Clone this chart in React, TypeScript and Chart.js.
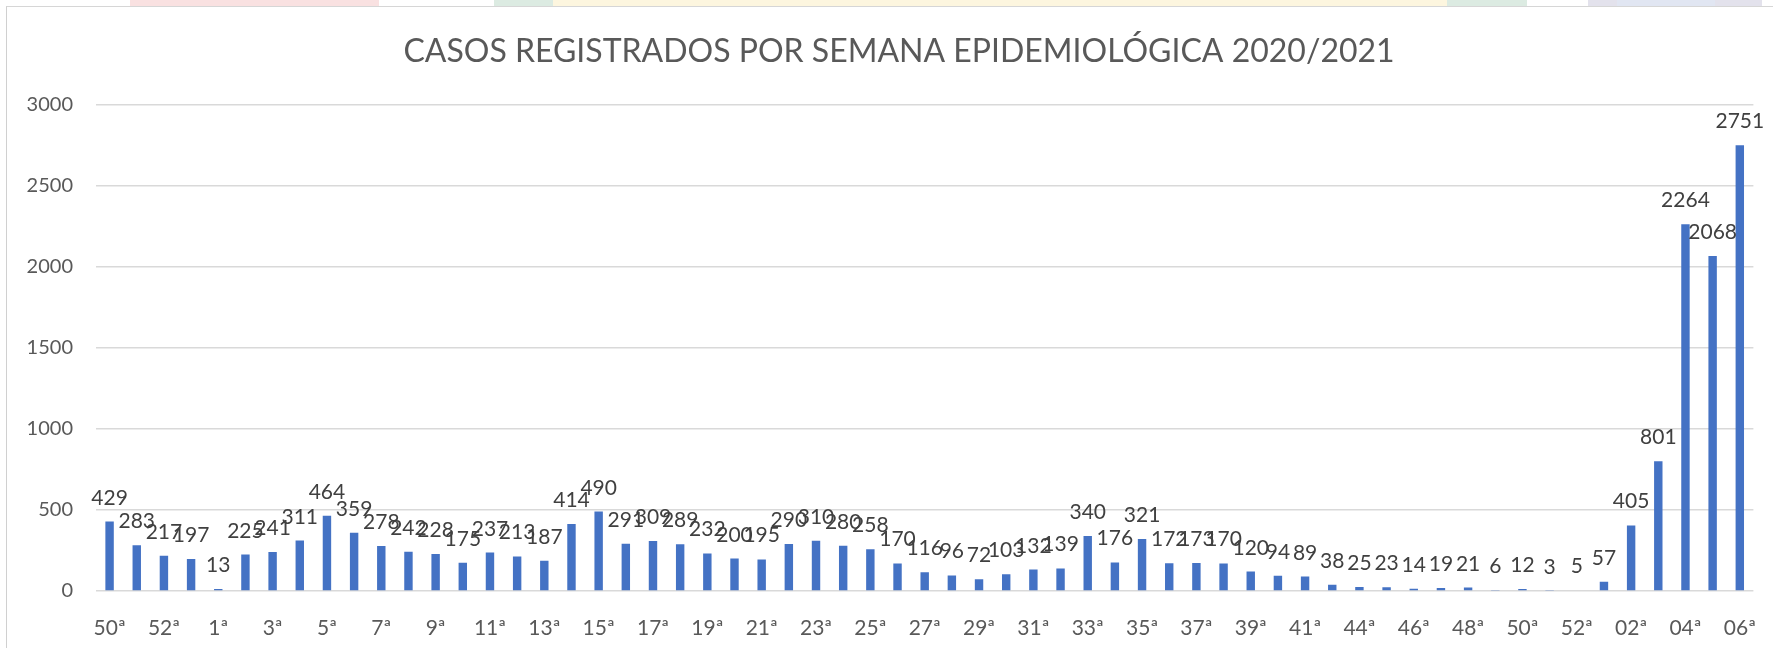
import React, { useEffect, useRef } from "react";
import { Chart, registerables } from "chart.js";

Chart.register(...registerables);

const TITLE = "CASOS REGISTRADOS POR SEMANA EPIDEMIOLÓGICA 2020/2021";

const weeks = [
  "50ª", "51ª", "52ª", "53ª",
  "1ª", "2ª", "3ª", "4ª", "5ª", "6ª", "7ª", "8ª", "9ª", "10ª",
  "11ª", "12ª", "13ª", "14ª", "15ª", "16ª", "17ª", "18ª", "19ª", "20ª",
  "21ª", "22ª", "23ª", "24ª", "25ª", "26ª", "27ª", "28ª", "29ª", "30ª",
  "31ª", "32ª", "33ª", "34ª", "35ª", "36ª", "37ª", "38ª", "39ª", "40ª",
  "41ª", "42ª", "44ª", "45ª", "46ª", "47ª", "48ª", "49ª", "50ª", "51ª", "52ª",
  "01ª", "02ª", "03ª", "04ª", "05ª", "06ª",
];

const cases = [
  429, 283, 217, 197,
  13, 225, 241, 311, 464, 359, 278, 242, 228, 175,
  237, 213, 187, 414, 490, 291, 309, 289, 232, 200,
  195, 290, 310, 280, 258, 170, 116, 96, 72, 103,
  132, 139, 340, 176, 321, 172, 173, 170, 120, 94,
  89, 38, 25, 23, 14, 19, 21, 6, 12, 3, 5,
  57, 405, 801, 2264, 2068, 2751,
];

const yMin = 0;
const yMax = 3000;
const yStep = 500;

const FONT = "Lato, 'Open Sans', sans-serif";
const AXIS_COLOR = "#595959";
const LABEL_COLOR = "#404040";
const BAR_COLOR = "#4472C4";
const GRID_COLOR = "#d9d9d9";

const valueLabels = {
  id: "valueLabels",
  afterDatasetsDraw(chart: any) {
    const ctx = chart.ctx;
    const meta = chart.getDatasetMeta(0);
    ctx.save();
    ctx.font = `21px ${FONT}`;
    ctx.fillStyle = LABEL_COLOR;
    ctx.textAlign = "center";
    ctx.textBaseline = "alphabetic";
    meta.data.forEach((bar: any, i: number) => {
      ctx.fillText(String(cases[i]), bar.x, bar.y - 17);
    });
    ctx.restore();
  },
};

const chartTitle = {
  id: "chartTitle",
  afterDraw(chart: any) {
    const ctx = chart.ctx;
    ctx.save();
    ctx.font = `32px ${FONT}`;
    ctx.fillStyle = AXIS_COLOR;
    ctx.textAlign = "center";
    ctx.textBaseline = "middle";
    ctx.fillText(TITLE, 899, 52);
    ctx.restore();
  },
};

const stripes = [
  { left: 130, width: 249, color: "#f9e1e1" },
  { left: 494, width: 59, color: "#dcebe2" },
  { left: 553, width: 894, color: "#fdf6df" },
  { left: 1447, width: 80, color: "#dcebe2" },
  { left: 1588, width: 29, color: "#e3e2ec" },
  { left: 1617, width: 98, color: "#e1e6f2" },
  { left: 1715, width: 47, color: "#e3e2ec" },
];

export default function App() {
  const canvasRef = useRef<HTMLCanvasElement | null>(null);

  useEffect(() => {
    if (!canvasRef.current) return;
    const chart = new Chart(canvasRef.current, {
      type: "bar",
      data: {
        labels: weeks,
        datasets: [
          {
            data: cases,
            backgroundColor: BAR_COLOR,
            borderWidth: 0,
            barPercentage: 0.31,
            categoryPercentage: 1,
          },
        ],
      },
      options: {
        responsive: false,
        animation: false,
        layout: { padding: { left: 0, right: 19, top: 105, bottom: 0 } },
        plugins: {
          legend: { display: false },
          tooltip: { enabled: false },
          title: { display: false },
        },
        scales: {
          x: {
            grid: { display: false },
            border: { display: false },
            ticks: {
              autoSkip: false,
              maxRotation: 0,
              minRotation: 0,
              padding: 17,
              color: AXIS_COLOR,
              font: { family: FONT, size: 21 },
              callback: (_v: any, i: number) => (i % 2 === 0 ? weeks[i] : ""),
            },
            afterFit: (s: any) => {
              s.height = 57;
            },
          },
          y: {
            min: yMin,
            max: yMax,
            border: { display: false },
            grid: { color: GRID_COLOR, lineWidth: 1.5, drawTicks: false },
            ticks: {
              stepSize: yStep,
              padding: 23,
              color: AXIS_COLOR,
              font: { family: FONT, size: 20 },
              callback: (v: any) => String(v),
            },
            afterFit: (s: any) => {
              s.width = 96;
            },
          },
        },
      },
      plugins: [valueLabels, chartTitle],
    });
    return () => chart.destroy();
  }, []);

  return (
    <div style={{ position: "fixed", left: 0, top: 0, width: 1773, height: 648, background: "#fff", overflow: "hidden" }}>
      {stripes.map((s, i) => (
        <div
          key={i}
          style={{ position: "absolute", top: 0, height: 6, left: s.left, width: s.width, background: s.color }}
        />
      ))}
      <div
        style={{
          position: "absolute",
          left: 6,
          top: 6,
          width: 1800,
          height: 700,
          borderLeft: "1.5px solid #d0d0d0",
          borderTop: "1.5px solid #d6d6d6",
        }}
      />
      <canvas
        ref={canvasRef}
        width={1773}
        height={648}
        style={{ position: "absolute", left: 0, top: 0, display: "block" }}
      />
    </div>
  );
}
